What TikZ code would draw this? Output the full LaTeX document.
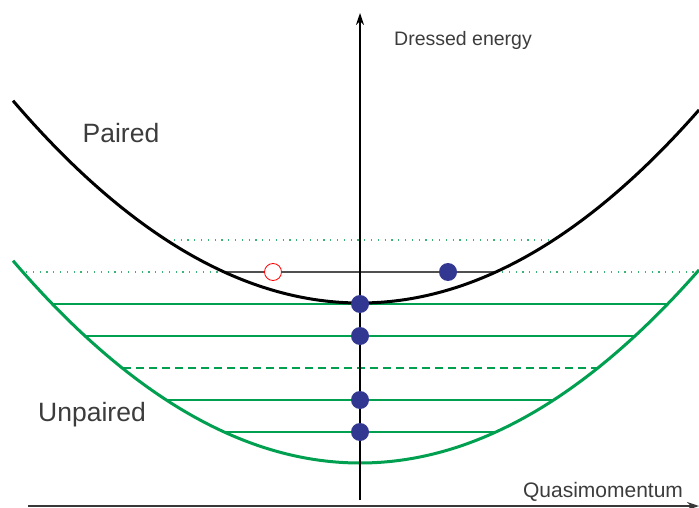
\documentclass[tikz,border=0pt]{standalone}
\usepackage{fontspec}
\setmainfont{Liberation Sans}
\usetikzlibrary{arrows.meta}
\definecolor{cgreen}{RGB}{0,160,80}
\definecolor{cdotg}{RGB}{60,180,120}
\definecolor{cdot}{RGB}{50,55,145}
\definecolor{ctext}{RGB}{60,60,60}
\definecolor{cgrey}{RGB}{80,80,80}
\begin{document}
\begin{tikzpicture}[x=1pt,y=-1pt,
  curve/.style={line width=3pt},
  level/.style={cgreen, line width=1.5pt},
  dotline/.style={cdotg, line width=1.2pt, dash pattern=on 1.2pt off 5.6pt},
  ball/.style={circle, fill=cdot, minimum size=18pt, inner sep=0pt},
  hole/.style={circle, draw=red, fill=white, minimum size=17pt, inner sep=0pt, line width=0.8pt},
  biglbl/.style={text=ctext, font=\fontsize{26.5}{30}\selectfont},
  axlbl/.style={text=ctext, font=\fontsize{19.5}{22}\selectfont},
  qmlbl/.style={text=ctext, font=\fontsize{21}{24}\selectfont},
  axis/.style={line width=1.5pt}
]
\useasboundingbox (0,0) rectangle (699,508);

% dotted reference levels
\coordinate (du1) at (167,240); \coordinate (du2) at (553,240);
\coordinate (dl1) at (26,272);  \coordinate (dl2) at (697,272);
\draw[dotline] (du1) -- (du2);
\draw[dotline] (dl1) -- (dl2);

% grey chord
\coordinate (g1) at (224,272); \coordinate (g2) at (496,272);
\draw[cgrey, line width=1.5pt] (g1) -- (g2);

% green levels
\coordinate (a1) at (53,304);  \coordinate (a2) at (667,304);
\coordinate (b1) at (86,336);  \coordinate (b2) at (634,336);
\coordinate (c1) at (123,368); \coordinate (c2) at (597,368);
\coordinate (d1) at (166,400); \coordinate (d2) at (554,400);
\coordinate (e1) at (224,432); \coordinate (e2) at (496,432);
\draw[level] (a1) -- (a2);
\draw[level] (b1) -- (b2);
\draw[level, dash pattern=on 8pt off 5pt] (c1) -- (c2);
\draw[level] (d1) -- (d2);
\draw[level] (e1) -- (e2);

% parabolas
\draw[curve] plot[domain=13:699, samples=120, smooth] (\x, {303-0.168*((\x-360)/10)^2});
\draw[curve, cgreen] plot[domain=13:699, samples=120, smooth] (\x, {463-0.168*((\x-360)/10)^2});

% axes
\coordinate (yb) at (360,500); \coordinate (yt) at (360,13);
\draw[axis, -{Stealth[length=12pt, width=8pt]}] (yb) -- (yt);
\coordinate (xl) at (28,506); \coordinate (xr) at (699,506);
\draw[axis, cgrey!70!black, -{Stealth[length=12pt, width=8pt]}] (xl) -- (xr);

% particles
\node[hole] (h) at (273,272) {};
\node[ball] (p1) at (448,272) {};
\node[ball] (p2) at (360,304) {};
\node[ball] (p3) at (360,336) {};
\node[ball] (p4) at (360,400) {};
\node[ball] (p5) at (360,432) {};

% labels
\node[biglbl] (paired) at (121,133) {Paired};
\node[biglbl] (unpaired) at (92,415) {Unpaired};
\node[axlbl] (de) at (463,40) {Dressed energy};
\node[qmlbl] (qm) at (603,492) {Quasimomentum};
\end{tikzpicture}
\end{document}
